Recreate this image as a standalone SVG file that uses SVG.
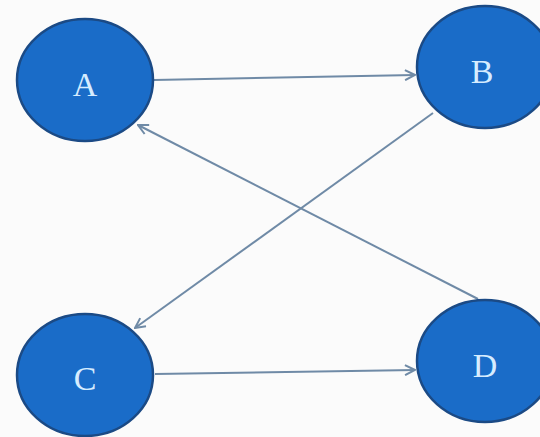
<svg xmlns="http://www.w3.org/2000/svg" width="540" height="437" viewBox="0 0 540 437">
  <defs>
    <style>
      .node { fill: #1a6cc8; stroke: #1b4a85; stroke-width: 2.5; }
      .label { font-family: "Liberation Serif", "DejaVu Serif", serif; font-size: 34px; fill: #d6ecff; text-anchor: middle; }
      .edge { stroke: #6f8aa6; stroke-width: 2; fill: none; marker-end: url(#arrow); }
    </style>
    <marker id="arrow" viewBox="0 0 12 12" refX="11" refY="6" markerWidth="12" markerHeight="12" markerUnits="userSpaceOnUse" orient="auto">
      <path d="M1,1 L11,6 L1,11" fill="none" stroke="#6f8aa6" stroke-width="2"/>
    </marker>
  </defs>
  <rect width="540" height="437" fill="#fbfbfb"/>
  <g id="connectors">
    <line class="edge" x1="154" y1="80" x2="415" y2="75"/>
    <line class="edge" x1="433" y1="113" x2="135" y2="328"/>
    <line class="edge" x1="478" y1="299" x2="138" y2="125"/>
    <line class="edge" x1="155" y1="374" x2="415" y2="370"/>
  </g>
  <g id="node-A">
    <ellipse class="node" cx="85" cy="80" rx="68" ry="61"/>
    <text class="label" x="85" y="96">A</text>
  </g>
  <g id="node-B">
    <ellipse class="node" cx="485" cy="67" rx="68" ry="61"/>
    <text class="label" x="482" y="83">B</text>
  </g>
  <g id="node-C">
    <ellipse class="node" cx="85" cy="375" rx="68" ry="61"/>
    <text class="label" x="85" y="390">C</text>
  </g>
  <g id="node-D">
    <ellipse class="node" cx="485" cy="361" rx="68" ry="61"/>
    <text class="label" x="485" y="377">D</text>
  </g>
</svg>
